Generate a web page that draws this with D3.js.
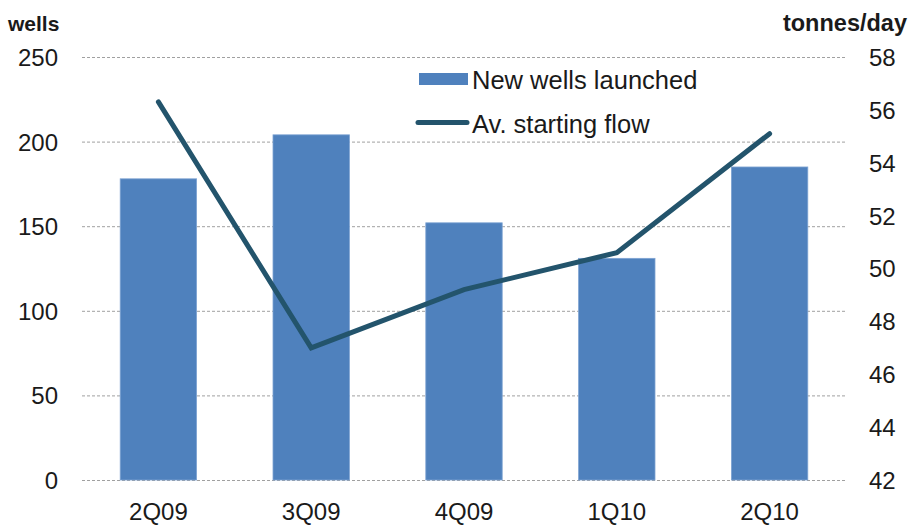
<!DOCTYPE html>
<html><head><meta charset="utf-8">
<script src="https://cdn.jsdelivr.net/npm/d3@7"></script>
<style>body{margin:0;background:#fff}svg{display:block}text{font-family:"Liberation Sans",Arial,sans-serif;fill:#1a1a1a}</style>
</head><body><svg id="c" width="912" height="526"></svg>
<script>
const categories = ["2Q09","3Q09","4Q09","1Q10","2Q10"];
const newWells = [178,204,152,131,185];
const startingFlow = [56.3,47.0,49.2,50.6,55.1];
const leftTicks = [0,50,100,150,200,250];
const rightTicks = [42,44,46,48,50,52,54,56,58];
const seriesNames = ["New wells launched","Av. starting flow"];

const svg = d3.select("#c");
const L = 82, R = 846, T = 57, B = 480;
const FONT = "Liberation Sans, Arial, sans-serif";
const x = d3.scaleBand().domain(categories).range([L,R]).paddingInner(0.5).paddingOuter(0.25);
const yL = d3.scaleLinear().domain([0,250]).range([B,T]);
const yR = d3.scaleLinear().domain([42,58]).range([B,T]);

// gridlines
svg.append("g").selectAll("line").data(leftTicks).join("line")
  .attr("x1",L).attr("x2",R).attr("y1",d=>yL(d)+0.5).attr("y2",d=>yL(d)+0.5)
  .attr("stroke","#a0a0a0").attr("stroke-width",1).attr("stroke-dasharray","3,2");

// bars
svg.append("g").selectAll("rect").data(newWells).join("rect")
  .attr("x",(d,i)=>x(categories[i])).attr("width",x.bandwidth())
  .attr("y",d=>yL(d)).attr("height",d=>B-yL(d))
  .attr("fill","#4f81bd").attr("stroke","#7ea3d3").attr("stroke-width",0.8);

// line
const line = d3.line().x((d,i)=>x(categories[i])+x.bandwidth()/2).y(d=>yR(d));
svg.append("path").datum(startingFlow).attr("d",line)
  .attr("fill","none").attr("stroke","#23546c").attr("stroke-width",5)
  .attr("stroke-linejoin","miter").attr("stroke-linecap","round");

// left axis
const ax = d3.axisLeft(yL).tickValues(leftTicks).tickSize(0).tickPadding(0);
const gl = svg.append("g").attr("transform","translate(58,0)").call(ax);
gl.select(".domain").remove();
gl.selectAll("text").attr("font-size",24).attr("dy","0.35em").attr("fill","#1a1a1a").attr("font-family",FONT);

// right axis
const ar = d3.axisRight(yR).tickValues(rightTicks).tickSize(0).tickPadding(0);
const gr = svg.append("g").attr("transform","translate(869,0)").call(ar);
gr.select(".domain").remove();
gr.selectAll("text").attr("font-size",24).attr("dy","0.35em").attr("fill","#1a1a1a").attr("font-family",FONT);

// bottom axis
const ab = d3.axisBottom(x).tickSize(0).tickPadding(0);
const gb = svg.append("g").attr("transform","translate(0,520)").call(ab);
gb.select(".domain").remove();
gb.selectAll("text").attr("font-size",24).attr("dy","0").attr("fill","#1a1a1a").attr("font-family",FONT);

// axis titles
svg.append("text").attr("x",8).attr("y",31).attr("font-size",21).attr("font-weight","bold").text("wells");
svg.append("text").attr("x",907).attr("y",31).attr("font-size",23.5).attr("font-weight","bold").attr("text-anchor","end").text("tonnes/day");

// legend
svg.append("rect").attr("x",419).attr("y",73).attr("width",49).attr("height",12).attr("fill","#4f81bd");
svg.append("text").attr("x",472).attr("y",89).attr("font-size",25.5).text(seriesNames[0]);
svg.append("line").attr("x1",418).attr("x2",467).attr("y1",122.5).attr("y2",122.5)
  .attr("stroke","#23546c").attr("stroke-width",5).attr("stroke-linecap","round");
svg.append("text").attr("x",472).attr("y",133).attr("font-size",25.5).text(seriesNames[1]);
</script></body></html>
